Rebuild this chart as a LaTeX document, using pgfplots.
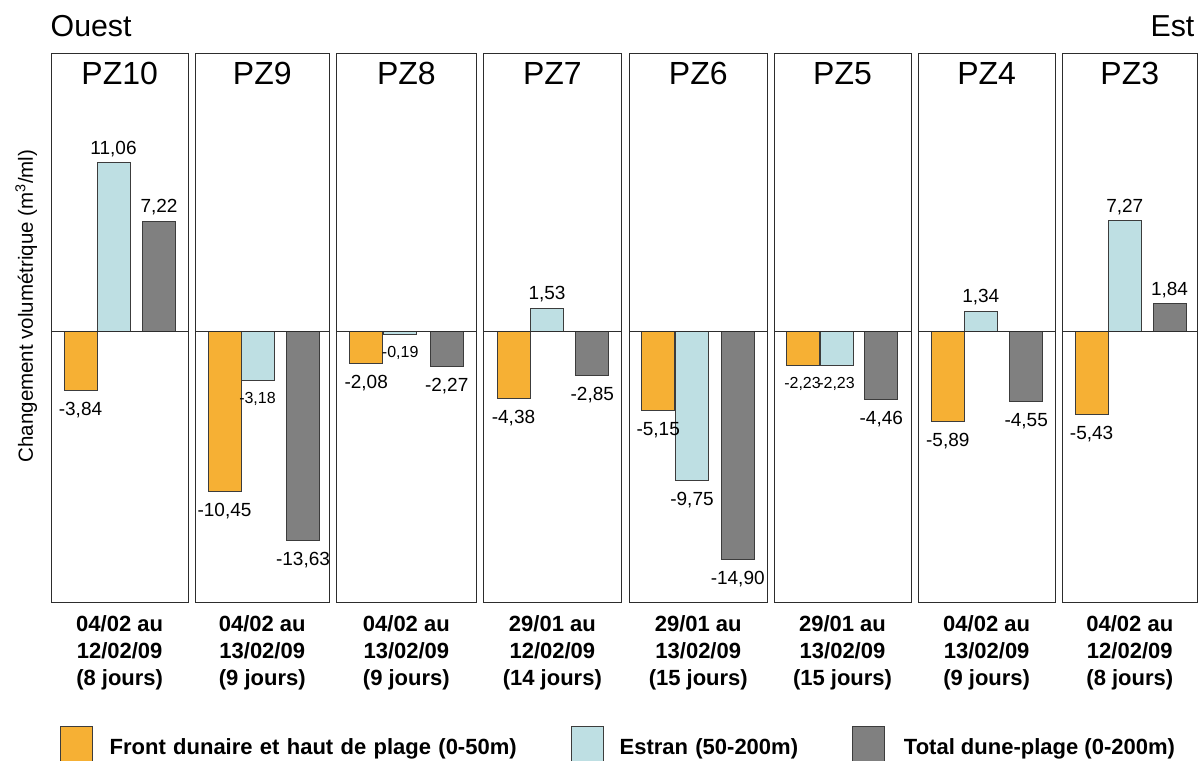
\documentclass[border=0pt]{standalone}
\usepackage{pgfplots}
\pgfplotsset{compat=1.18}
\usepackage{fontspec}
\setmainfont{Liberation Sans}
\definecolor{cOr}{RGB}{246,176,52}
\definecolor{cBl}{RGB}{190,223,227}
\definecolor{cGr}{RGB}{128,128,128}
\definecolor{cEd}{RGB}{60,60,60}
\definecolor{cAx}{RGB}{45,45,45}
\pgfplotsset{
  panel/.style={scale only axis, height=548.3pt, ymin=-17.69, ymax=18.15, xmin=0,
    xtick=\empty, ytick=\empty, axis line style={draw=cAx, line width=1pt},
    clip=false, anchor=south west,
    title style={at={(axis description cs:0.5,1)}, anchor=base, yshift=-36.7pt,
      font=\fontsize{32}{32}\selectfont, inner sep=0pt},
    xlabel style={at={(axis description cs:0.5,0)}, anchor=north, yshift=-13.4pt,
      font=\fontsize{22}{26.6}\selectfont\bfseries, align=center, inner sep=0pt},
    /pgf/number format/.cd, fixed, fixed zerofill, precision=2, use comma, assume math mode=true},
  mybar/.style={ybar, bar width=33, bar shift=0pt, draw=cEd, line width=0.9pt, fill=#1, forget plot},
  lpos/.style={nodes near coords, every node near coord/.append style={anchor=south, inner sep=0pt, yshift=5.5pt, font=\fontsize{19}{19}\selectfont, text=black}},
  lneg/.style={nodes near coords, every node near coord/.append style={anchor=north, inner sep=0pt, yshift=-11.3pt, font=\fontsize{19}{19}\selectfont, text=black}},
  lnegs/.style={nodes near coords, every node near coord/.append style={anchor=north, inner sep=0pt, yshift=-11.3pt, font=\fontsize{16}{16}\selectfont, text=black}},
  zline/.style={cAx, line width=1.1pt, forget plot},
}
\begin{document}
\begin{tikzpicture}
\useasboundingbox (0pt,0pt) rectangle (1198pt,760pt);
\node[anchor=base west, inner sep=0pt, font=\fontsize{30.3}{30}\selectfont] at (50.5pt,723.3pt) {Ouest};
\node[anchor=base east, inner sep=0pt, font=\fontsize{30.3}{30}\selectfont] at (1194.5pt,723.3pt) {Est};

% PZ10
\begin{axis}[panel, at={(51pt,157.7pt)}, width=137.3pt, xmax=137.3, title={PZ10},
  xlabel={04/02 au\\12/02/09\\(8 jours)},
  ylabel={Changement volumétrique (m\textsuperscript{3}/ml)},
  ylabel style={at={(axis description cs:-0.1311,0.5404)}, anchor=base, font=\fontsize{20.5}{20.5}\selectfont, inner sep=0pt},
  legend columns=3, legend cell align=left,
  legend style={at={(axis description cs:0,0)}, anchor=north west, xshift=9pt, yshift=-123.7pt,
    draw=none, fill=none, inner sep=0pt, outer sep=0pt, column sep=0pt, row sep=0pt,
    nodes={inner sep=0pt, text height=16pt, text depth=0pt, font=\fontsize{22}{22}\selectfont\bfseries}}]
\addplot[mybar=cOr, lneg] coordinates {(29.5,-3.84)};
\addplot[mybar=cBl, lpos] coordinates {(62.5,11.06)};
\addplot[mybar=cGr, lpos] coordinates {(108,7.22)};
\addplot[zline] coordinates {(0,0) (137.3,0)};
\addlegendimage{legend image code/.code={\draw[cEd, line width=0.9pt, fill=cOr] (0pt,-30pt) rectangle (32pt,20pt); \path (49pt,0pt);}}
\addlegendentry[text width=461pt]{Front dunaire et haut de plage (0-50m)}
\addlegendimage{legend image code/.code={\draw[cEd, line width=0.9pt, fill=cBl] (0pt,-30pt) rectangle (32.5pt,20pt); \path (48.3pt,0pt);}}
\addlegendentry[text width=232.4pt]{Estran (50-200m)}
\addlegendimage{legend image code/.code={\draw[cEd, line width=0.9pt, fill=cGr] (0pt,-30pt) rectangle (32.3pt,20pt); \path (51.3pt,0pt);}}
\addlegendentry{Total dune-plage (0-200m)}
\end{axis}

% PZ9
\begin{axis}[panel, at={(195pt,157.7pt)}, width=134.5pt, xmax=134.5, title={PZ9},
  xlabel={04/02 au\\13/02/09\\(9 jours)}]
\addplot[mybar=cOr, lneg] coordinates {(29.5,-10.45)};
\addplot[mybar=cBl, lnegs] coordinates {(62.5,-3.18)};
\addplot[mybar=cGr, lneg] coordinates {(108,-13.63)};
\addplot[zline] coordinates {(0,0) (134.5,0)};
\end{axis}

% PZ8
\begin{axis}[panel, at={(336.7pt,157.7pt)}, width=139.3pt, xmax=139.3, title={PZ8},
  xlabel={04/02 au\\13/02/09\\(9 jours)}]
\addplot[mybar=cOr, lneg] coordinates {(29.5,-2.08)};
\addplot[mybar=cBl, lnegs] coordinates {(63.5,-0.19)};
\addplot[mybar=cGr, lneg] coordinates {(110,-2.27)};
\addplot[zline] coordinates {(0,0) (139.3,0)};
\end{axis}

% PZ7
\begin{axis}[panel, at={(483pt,157.7pt)}, width=138.7pt, xmax=138.7, title={PZ7},
  xlabel={29/01 au\\12/02/09\\(14 jours)}]
\addplot[mybar=cOr, lneg] coordinates {(30.5,-4.38)};
\addplot[mybar=cBl, lpos] coordinates {(64,1.53)};
\addplot[mybar=cGr, lneg] coordinates {(109.3,-2.85)};
\addplot[zline] coordinates {(0,0) (138.7,0)};
\end{axis}

% PZ6
\begin{axis}[panel, at={(629.5pt,157.7pt)}, width=137.5pt, xmax=137.5, title={PZ6},
  xlabel={29/01 au\\13/02/09\\(15 jours)}]
\addplot[mybar=cOr, lneg] coordinates {(28.7,-5.15)};
\addplot[mybar=cBl, lneg] coordinates {(62.5,-9.75)};
\addplot[mybar=cGr, lneg] coordinates {(108.2,-14.90)};
\addplot[zline] coordinates {(0,0) (137.5,0)};
\end{axis}

% PZ5
\begin{axis}[panel, at={(774pt,157.7pt)}, width=137pt, xmax=137, title={PZ5},
  xlabel={29/01 au\\13/02/09\\(15 jours)}]
\addplot[mybar=cOr, lnegs] coordinates {(28.5,-2.23)};
\addplot[mybar=cBl, lnegs] coordinates {(62.5,-2.23)};
\addplot[mybar=cGr, lneg] coordinates {(107.3,-4.46)};
\addplot[zline] coordinates {(0,0) (137,0)};
\end{axis}

% PZ4
\begin{axis}[panel, at={(918pt,157.7pt)}, width=137.3pt, xmax=137.3, title={PZ4},
  xlabel={04/02 au\\13/02/09\\(9 jours)}]
\addplot[mybar=cOr, lneg] coordinates {(29.8,-5.89)};
\addplot[mybar=cBl, lpos] coordinates {(62.8,1.34)};
\addplot[mybar=cGr, lneg] coordinates {(108.2,-4.55)};
\addplot[zline] coordinates {(0,0) (137.3,0)};
\end{axis}

% PZ3
\begin{axis}[panel, at={(1062.3pt,157.7pt)}, width=135pt, xmax=135, title={PZ3},
  xlabel={04/02 au\\12/02/09\\(8 jours)}]
\addplot[mybar=cOr, lneg] coordinates {(29.3,-5.43)};
\addplot[mybar=cBl, lpos] coordinates {(62.5,7.27)};
\addplot[mybar=cGr, lpos] coordinates {(107.2,1.84)};
\addplot[zline] coordinates {(0,0) (135,0)};
\end{axis}
\end{tikzpicture}
\end{document}
